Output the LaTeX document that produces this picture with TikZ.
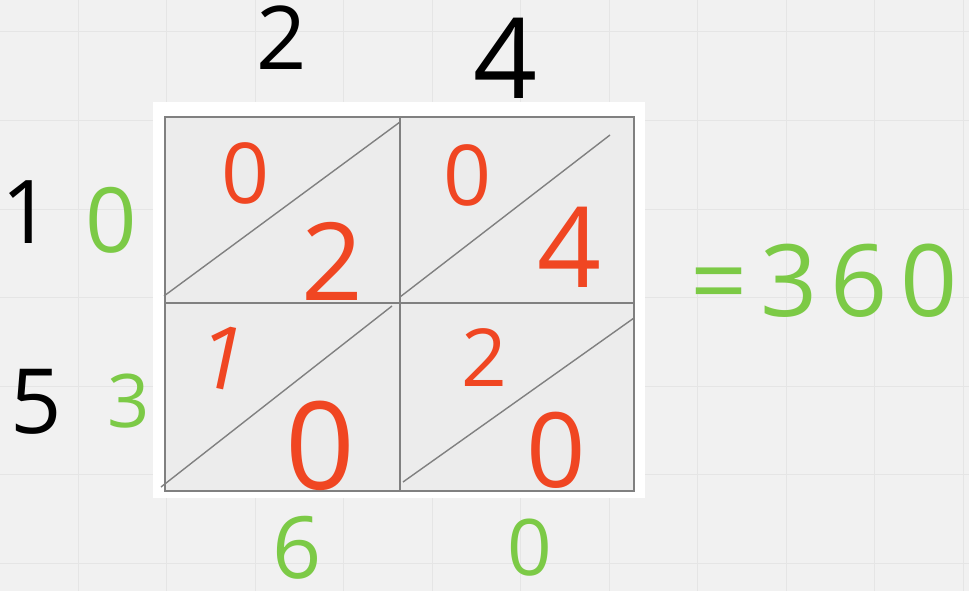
\documentclass[tikz,border=0pt]{standalone}
\usepackage{fontspec}
\setmainfont{Open Sans}
\usetikzlibrary{positioning}
\definecolor{pagebg}{RGB}{241,241,241}
\definecolor{gridln}{RGB}{229,229,229}
\definecolor{cellfill}{RGB}{236,236,236}
\definecolor{cellline}{RGB}{128,128,128}
\definecolor{inkred}{RGB}{240,70,34}
\definecolor{inkgreen}{RGB}{124,202,70}
\tikzset{
  digit/.style={inner sep=0pt, font=\fontsize{#1}{#1}\selectfont},
  prod/.style={digit=#1, text=inkred},
  res/.style={digit=#1, text=inkgreen},
  fac/.style={digit=#1, text=black},
  cellbox/.style={draw=cellline, line width=2pt, fill=cellfill},
  diag/.style={draw=cellline, line width=1.4pt},
}
\begin{document}
\begin{tikzpicture}[x=1pt, y=-1pt]
  \useasboundingbox (0,0) rectangle (969,591);
  \fill[pagebg] (0,0) rectangle (969,591);
  % faint page grid
  \foreach \gx in {78,166.5,...,964} \draw[gridln, line width=1pt] (\gx,0) -- (\gx,591);
  \foreach \gy in {32,120.5,...,564} \draw[gridln, line width=1pt] (0,\gy) -- (969,\gy);
  \fill[white] (153,102) rectangle (645,498);

  % lattice
  \coordinate (tl) at (165,117); \coordinate (br) at (634,491);
  \draw[cellbox] (tl) rectangle (br);
  \draw[cellline, line width=2pt] (400,117) -- (400,491) (165,303) -- (634,303);
  \draw[diag] (164,296) -- (400,122);
  \draw[diag] (400,297) -- (610,135);
  \draw[diag] (161,487) -- (392,306);
  \draw[diag] (403,482) -- (634,318);

  % factors
  \node[fac=88] (twoTop) at (282,38) {2};
  \node[fac=112] (fourTop) at (506,58) {4};
  \node[fac=88] (oneSide) at (27,212) {1};
  \node[fac=90] (fiveSide) at (36,402) {5};

  % partial products
  \node[prod=84] (pAa) at (246,173) {0};
  \node[prod=108] (pAb) at (332,261) {2};
  \node[prod=84] (pBa) at (468,175) {0};
  \node[prod=112] (pBb) at (570,247) {4};
  \node[prod=88, rotate=-12] (pCa) at (225,358) {1};
  \node[prod=122] (pCb) at (320,446) {0};
  \node[prod=80] (pDa) at (484,358) {2};
  \node[prod=104] (pDb) at (556,450) {0};

  % diagonal sums
  \node[res=90] (sLeft) at (111,220) {0};
  \node[res=74] (sThree) at (129,401) {3};
  \node[res=86] (sSix) at (297,548) {6};
  \node[res=78] (sZero) at (530,548) {0};
  \node[res=100, anchor=base west, font=\fontsize{100}{100}\selectfont\addfontfeature{LetterSpace=13}] (total) at (690,316) {=360};
\end{tikzpicture}
\end{document}
